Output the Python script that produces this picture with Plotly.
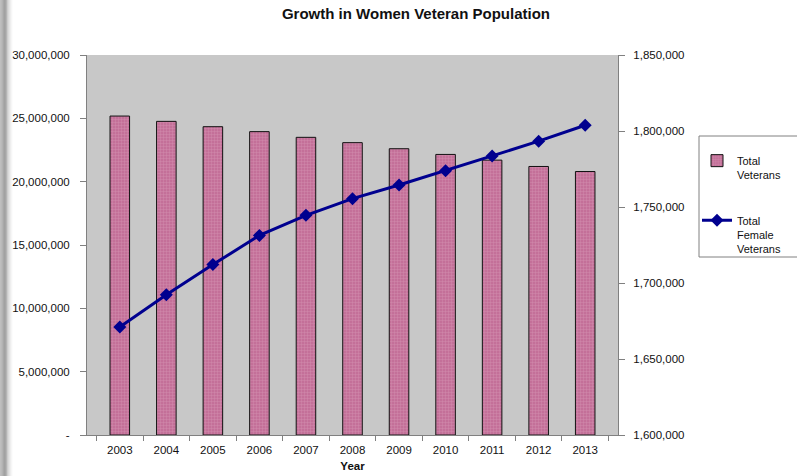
import plotly.graph_objects as go

years = ["2003", "2004", "2005", "2006", "2007", "2008", "2009", "2010", "2011", "2012", "2013"]
total_veterans = [25180000, 24760000, 24340000, 23950000, 23500000, 23080000,
                  22600000, 22150000, 21700000, 21200000, 20800000]
female_veterans = [1671000, 1692300, 1712100, 1731300, 1744500, 1755500,
                   1764500, 1773900, 1783600, 1793300, 1803800]

left_ticks = [0, 5000000, 10000000, 15000000, 20000000, 25000000, 30000000]
left_labels = ["-", "5,000,000", "10,000,000", "15,000,000", "20,000,000", "25,000,000", "30,000,000"]
right_ticks = [1600000, 1650000, 1700000, 1750000, 1800000, 1850000]
right_labels = ["1,600,000", "1,650,000", "1,700,000", "1,750,000", "1,800,000", "1,850,000"]

W, H = 797, 476
L, R, T, B = 87, 618, 55, 435

def px(x):
    return (x - L) / (R - L)

def py(y):
    return (B - y) / (B - T)

font = "Liberation Sans, Arial, sans-serif"

fig = go.Figure()
fig.add_trace(go.Bar(
    x=years, y=total_veterans, name="Total<br>Veterans",
    width=0.42,
    marker=dict(color="#C87AA2", line=dict(color="#111111", width=1),
                pattern=dict(shape="+", size=3, solidity=0.25,
                             fgcolor="#E2AECB", bgcolor="#C47099")),
    legendgroup="a",
))
fig.add_trace(go.Scatter(
    x=years, y=female_veterans, name="Total<br>Female<br>Veterans",
    yaxis="y2", mode="lines+markers",
    line=dict(color="#00008F", width=3),
    marker=dict(symbol="diamond", size=10, color="#00008F"),
    legendgroup="b",
))

shapes = []
# slide shadow strip at left edge
grays = ["#BEBEBE", "#B0B0B0", "#A4A4A4", "#A0A0A0", "#A6A6A6", "#B4B4B4", "#C8C8C8", "#DCDCDC", "#ECECEC", "#F6F6F6"]
for i, g in enumerate(grays):
    shapes.append(dict(type="rect", xref="paper", yref="paper",
                       x0=px(i * 1.2), x1=px((i + 1) * 1.2 + 0.3),
                       y0=py(H + 5), y1=py(-5), fillcolor=g, line=dict(width=0), layer="below"))
# legend frame
shapes.append(dict(type="rect", xref="paper", yref="paper",
                   x0=px(699), x1=px(805), y0=py(257), y1=py(136),
                   fillcolor="white", line=dict(color="#808080", width=1), layer="below"))

fig.update_layout(
    width=W, height=H,
    margin=dict(l=L, r=W - R, t=T, b=H - B, autoexpand=False),
    paper_bgcolor="white",
    plot_bgcolor="#C8C8C8",
    font=dict(family=font, size=11.5, color="#111111"),
    title=dict(text="<b>Growth in Women Veteran Population</b>", x=px(416), xref="paper",
               xanchor="center", y=1 - 14 / H, yanchor="middle",
               font=dict(size=15, family=font, color="#111111")),
    xaxis=dict(type="category", showline=True, linecolor="#808080", linewidth=1,
               ticks="outside", ticklen=5, tickcolor="#808080", tickson="boundaries",
               showgrid=False, mirror=False, ticklabelstandoff=4, automargin=False,
               title=dict(text="<b>Year</b>", standoff=7, font=dict(size=11.5))),
    yaxis=dict(range=[0, 30000000], tickvals=left_ticks, ticktext=left_labels,
               showline=True, linecolor="#808080", linewidth=1,
               ticks="outside", ticklen=6, tickcolor="#808080", automargin=False,
               showgrid=False, zeroline=False, ticklabelstandoff=8),
    yaxis2=dict(range=[1600000, 1850000], tickvals=right_ticks, ticktext=right_labels,
                overlaying="y", side="right",
                showline=True, linecolor="#808080", linewidth=1,
                ticks="outside", ticklen=6, tickcolor="#808080", automargin=False,
                showgrid=False, zeroline=False, ticklabelstandoff=6),
    bargap=0.58,
    legend=dict(x=px(697), y=py(147), xanchor="left", yanchor="top",
                bgcolor="rgba(0,0,0,0)", borderwidth=0,
                font=dict(size=11, family=font), valign="top",
                tracegroupgap=28, itemwidth=30),
    shapes=shapes,
    showlegend=True,
)

fig.write_html("out.html", config={"displayModeBar": False},
               post_script="document.body.style.margin='0';document.body.style.overflow='hidden';")
